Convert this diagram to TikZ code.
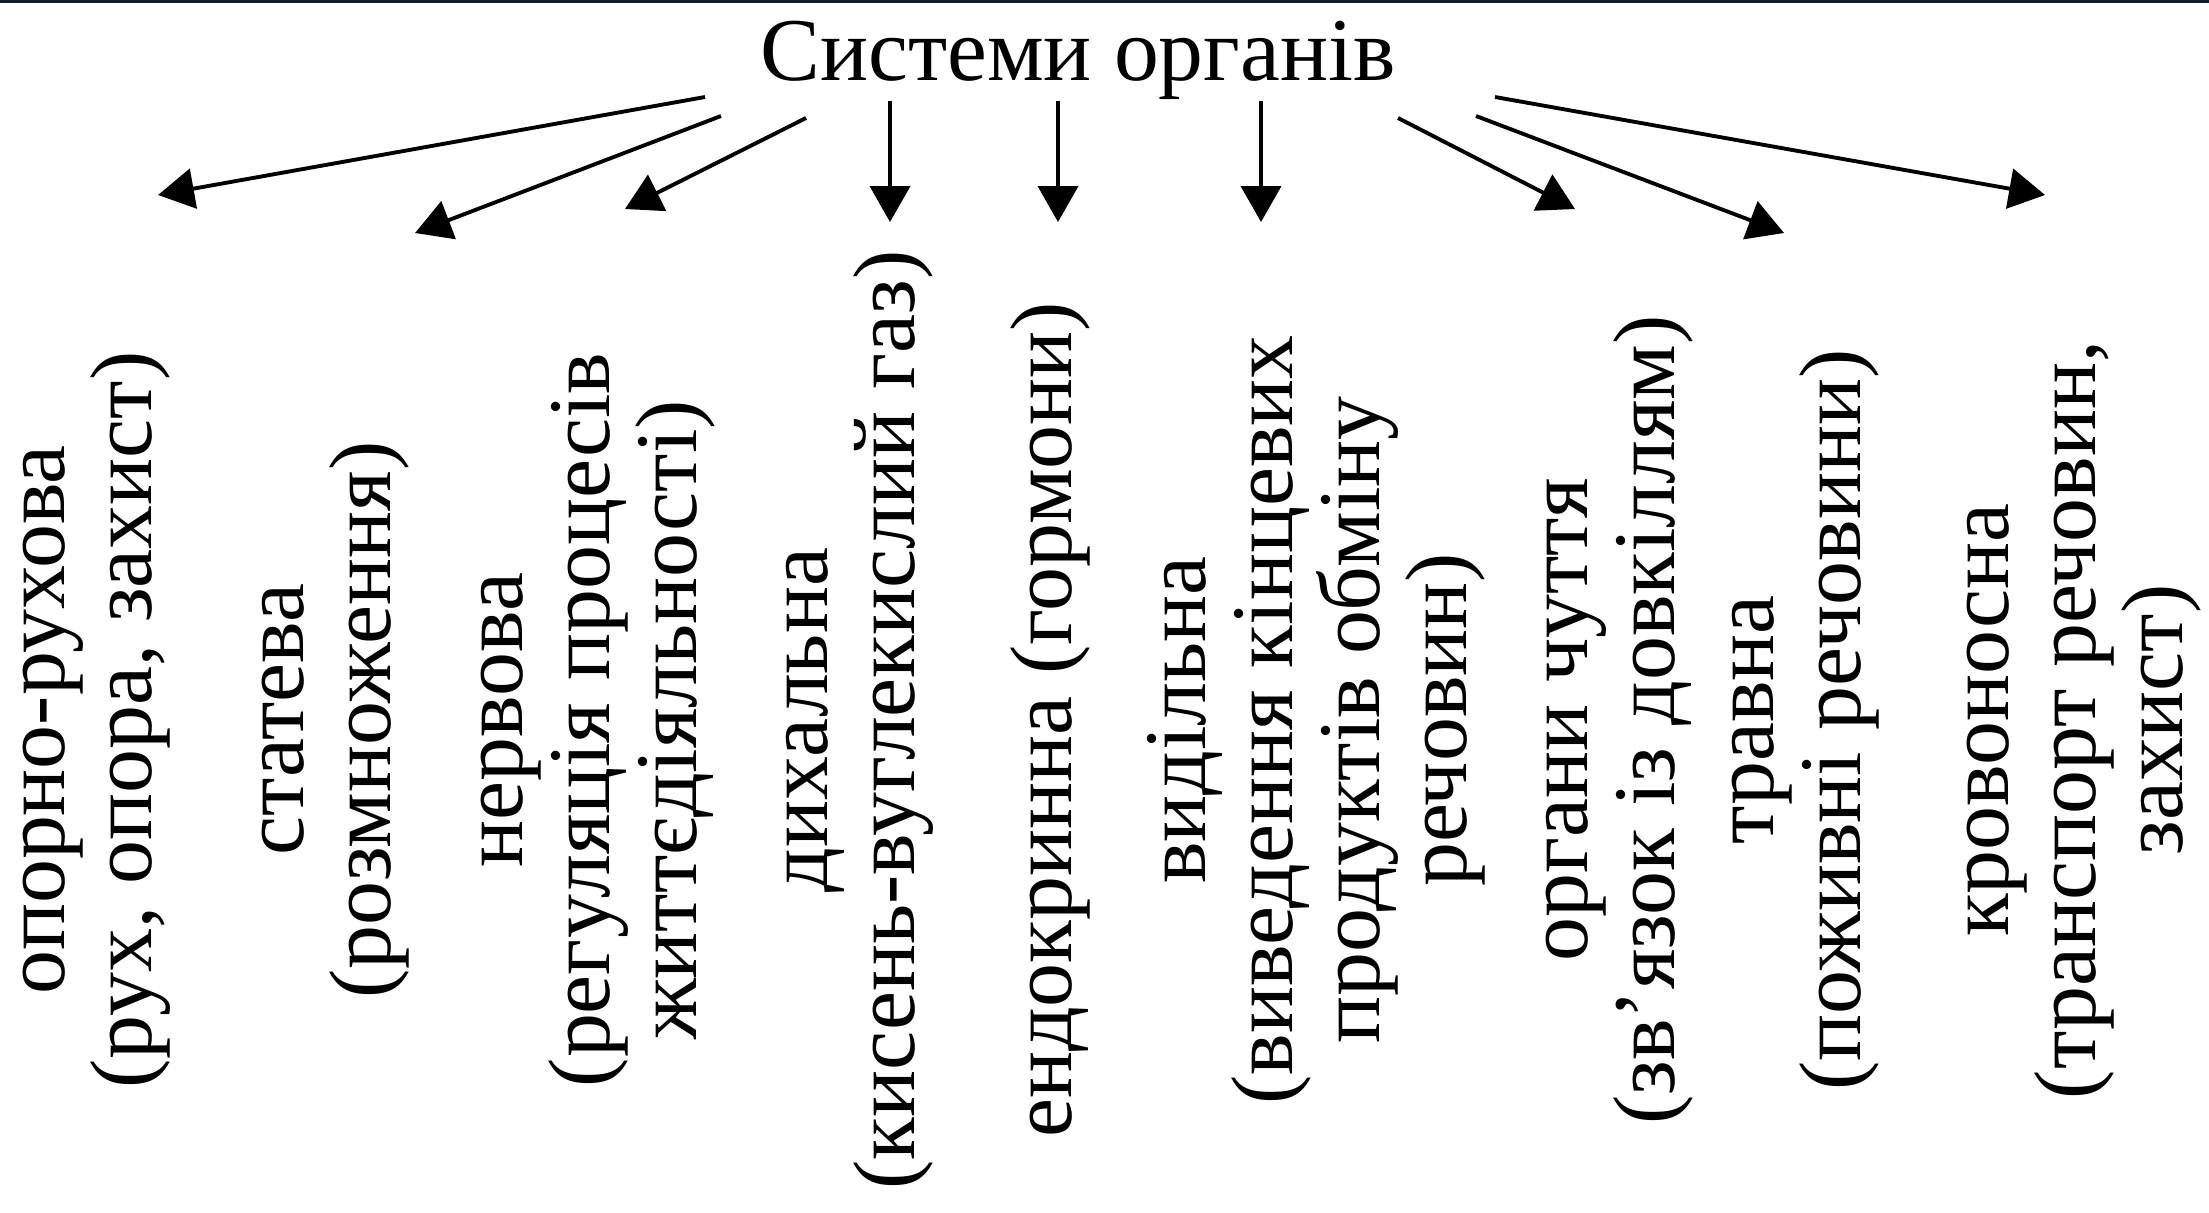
\documentclass[tikz,border=0pt]{standalone}
\usepackage{fontspec}
\setmainfont{Liberation Serif}
\usetikzlibrary{arrows.meta}
\definecolor{topstrip}{RGB}{10,32,48}

\begin{document}
\begin{tikzpicture}[
    organ/.style={rotate=90, align=center, inner sep=0pt, font=\fontsize{25}{24.75}\selectfont},
    head/.style={anchor=base, inner sep=0pt, font=\fontsize{25.5}{30}\selectfont},
    link/.style={-{Triangle[length=0.36cm, width=0.40cm]}, line width=1.1pt}]
		\useasboundingbox (0,0) rectangle (22.09,-12.12);
		% thin dark strip along the top edge
		\fill[topstrip] (0,0) rectangle (22.09,-0.025);

		% Title
		\node[head] (sys) at (10.78,-0.80) {Системи органів};

		% Organ systems, turned on their side
		\node[organ] (opora) at (0.97,-7.20) {опорно-рухова\\(рух, опора, захист)};
		\node[organ] (stateva) at (3.36,-7.20) {статева\\(розмноження)};
		\node[organ] (nervova) at (5.98,-7.20) {нервова\\(регуляція процесів\\життєдіяльності)};
		\node[organ] (dykhalna) at (8.60,-7.20) {дихальна\\(кисень-вуглекислий газ)};
		\node[organ] (endokrynna) at (10.50,-7.20) {ендокринна (гормони)};
		\node[organ] (vydilna) at (13.16,-7.20) {видільна\\(виведення кінцевих\\продуктів обміну\\речовин)};
		\node[organ] (chuttia) at (16.20,-7.20) {органи чуття\\(зв’язок із довкіллям)};
		\node[organ] (travna) at (18.06,-7.20) {травна\\(поживні речовини)};
		\node[organ] (krovonosna) at (20.84,-7.20) {кровоносна\\(транспорт речовин,\\захист)};

		% Arrow ends
		\coordinate (s1) at (7.05,-0.97);  \coordinate (t1) at (1.58,-1.95);
		\coordinate (s2) at (7.21,-1.16);  \coordinate (t2) at (4.15,-2.33);
		\coordinate (s3) at (8.06,-1.18);  \coordinate (t3) at (6.25,-2.09);
		\coordinate (s4) at (8.90,-1.01);  \coordinate (t4) at (8.90,-2.22);
		\coordinate (s5) at (10.58,-1.01); \coordinate (t5) at (10.58,-2.22);
		\coordinate (s6) at (12.61,-1.01); \coordinate (t6) at (12.61,-2.22);
		\coordinate (s7) at (13.98,-1.18); \coordinate (t7) at (15.75,-2.09);
		\coordinate (s8) at (14.76,-1.16); \coordinate (t8) at (17.84,-2.33);
		\coordinate (s9) at (14.95,-0.97); \coordinate (t9) at (20.45,-1.95);

		% Draw the arrows
		\draw[link] (s1) -- (t1);
		\draw[link] (s2) -- (t2);
		\draw[link] (s3) -- (t3);
		\draw[link] (s4) -- (t4);
		\draw[link] (s5) -- (t5);
		\draw[link] (s6) -- (t6);
		\draw[link] (s7) -- (t7);
		\draw[link] (s8) -- (t8);
		\draw[link] (s9) -- (t9);

	\end{tikzpicture}
\end{document}
